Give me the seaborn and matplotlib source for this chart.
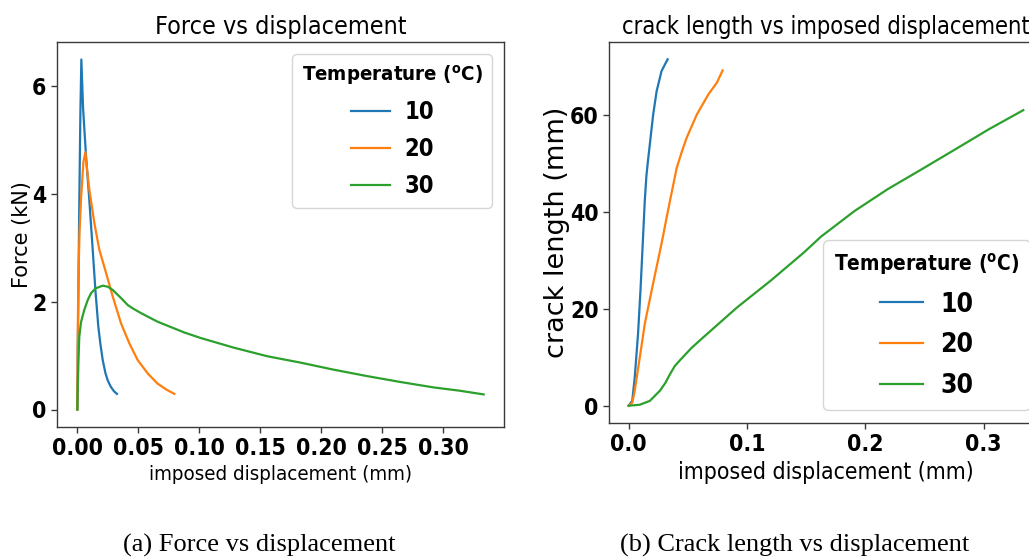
import pandas as pd
import matplotlib
matplotlib.use('Agg')
import matplotlib.pyplot as plt
import seaborn as sns
from matplotlib import font_manager

# ---------------------------------------------------------
# Data
# ---------------------------------------------------------
TEMPS = [10, 20, 30]

# Force vs imposed displacement
disp_f_10 = [0.0, 0.0004, 0.0008, 0.0015, 0.0025, 0.0033, 0.0047, 0.0071, 0.0098, 0.0126,
             0.0148, 0.0172, 0.0190, 0.0208, 0.0230, 0.0249, 0.0275, 0.0300, 0.0325]
force_10 = [0.0, 1.2, 2.0, 3.6, 5.5, 6.5, 5.6, 4.72, 3.9, 2.97,
            2.22, 1.54, 1.2, 0.92, 0.68, 0.54, 0.42, 0.34, 0.29]

disp_f_20 = [0.0, 0.0003, 0.0008, 0.0018, 0.0030, 0.0050, 0.0066, 0.0080, 0.0098, 0.0139,
             0.0180, 0.0235, 0.0290, 0.0358, 0.0426, 0.0494, 0.0577, 0.0658, 0.0730, 0.0795]
force_20 = [0.0, 1.2, 2.35, 3.3, 3.9, 4.6, 4.78, 4.45, 4.09, 3.47,
            2.97, 2.54, 2.10, 1.60, 1.23, 0.92, 0.67, 0.48, 0.37, 0.29]

disp_f_30 = [0.0, 0.0004, 0.0010, 0.0016, 0.0030, 0.0057, 0.0085, 0.0112, 0.0150, 0.0208,
             0.0250, 0.0290, 0.0358, 0.0413, 0.0460, 0.0522, 0.0658, 0.0877, 0.1008, 0.1280,
             0.1555, 0.1830, 0.2100, 0.2375, 0.2650, 0.2920, 0.3130, 0.3330]
force_30 = [0.0, 0.45, 0.95, 1.35, 1.62, 1.85, 2.03, 2.16, 2.25, 2.30,
            2.28, 2.22, 2.07, 1.94, 1.87, 1.79, 1.63, 1.43, 1.33, 1.15,
            0.99, 0.87, 0.74, 0.62, 0.51, 0.41, 0.35, 0.28]

# Crack length vs imposed displacement
disp_c_10 = [0.0, 0.0030, 0.0051, 0.0079, 0.0100, 0.0116, 0.0136, 0.0150, 0.0165, 0.0179,
             0.0195, 0.0207, 0.0236, 0.0278, 0.0329]
crack_10 = [0.0, 1.0, 5.8, 14.8, 24.0, 32.0, 42.3, 47.5, 51.0, 54.0,
            57.5, 60.1, 64.9, 69.1, 71.5]

disp_c_20 = [0.0, 0.0030, 0.0051, 0.0094, 0.0136, 0.0207, 0.0278, 0.0335, 0.0406, 0.0450,
             0.0490, 0.0576, 0.0675, 0.0746, 0.0794]
crack_20 = [0.0, 0.6, 3.1, 10.0, 16.9, 25.3, 33.5, 40.6, 49.1, 52.5,
            55.3, 60.1, 64.3, 66.7, 69.2]

disp_c_30 = [0.0, 0.0094, 0.0179, 0.0264, 0.0310, 0.0349, 0.0390, 0.0434, 0.0530, 0.0630,
             0.0917, 0.1200, 0.1480, 0.1626, 0.1910, 0.2190, 0.2477, 0.2760, 0.3044, 0.3336]
crack_30 = [0.0, 0.2, 1.0, 3.1, 4.7, 6.5, 8.2, 9.4, 11.9, 14.1,
            20.3, 25.8, 31.6, 34.9, 40.2, 44.7, 48.8, 52.9, 57.05, 61.0]


def long_frame(xs, ys, ycol):
    parts = []
    for t, x, y in zip(TEMPS, xs, ys):
        parts.append(pd.DataFrame({'disp': x, ycol: y, 'Temperature': str(t)}))
    return pd.concat(parts, ignore_index=True)


force_df = long_frame([disp_f_10, disp_f_20, disp_f_30], [force_10, force_20, force_30], 'force')
crack_df = long_frame([disp_c_10, disp_c_20, disp_c_30], [crack_10, crack_20, crack_30], 'crack')

# ---------------------------------------------------------
# Fonts: condensed sans for most text, if available
# ---------------------------------------------------------
fonts = font_manager.fontManager.ttflist
names = {f.name for f in fonts}
if any(f.name == 'DejaVu Sans' and f.stretch == 'condensed' for f in fonts):
    COND = dict(family='DejaVu Sans', stretch='condensed')
elif 'Liberation Sans Narrow' in names:
    COND = dict(family='Liberation Sans Narrow', stretch='normal')
else:
    COND = dict(family='DejaVu Sans', stretch='condensed')

plt.rcParams['font.family'] = [COND['family'], 'DejaVu Sans']
plt.rcParams['font.stretch'] = COND['stretch']
plt.rcParams['mathtext.default'] = 'regular'

palette = ['#1f77b4', '#ff7f0e', '#2ca02c']
TICK_FS = 16.5

fig = plt.figure(figsize=(10.29, 5.6), dpi=100)
ax1 = fig.add_axes([0.0554, 0.2375, 0.4344, 0.6875])
ax2 = fig.add_axes([0.5918, 0.2446, 0.4218, 0.6804])

sns.lineplot(data=force_df, x='disp', y='force', hue='Temperature', palette=palette,
             sort=False, estimator=None, lw=1.6, ax=ax1)
sns.lineplot(data=crack_df, x='disp', y='crack', hue='Temperature', palette=palette,
             sort=False, estimator=None, lw=1.6, ax=ax2)

for ax in (ax1, ax2):
    for sp in ax.spines.values():
        sp.set_color('#3a3a3a')
        sp.set_linewidth(1.0)
    ax.tick_params(length=4, width=1.0, color='#3a3a3a')

ax1.set_xticks([0.0, 0.05, 0.10, 0.15, 0.20, 0.25, 0.30])
ax1.set_xticklabels(['0.00', '0.05', '0.10', '0.15', '0.20', '0.25', '0.30'],
                    fontweight='bold', fontsize=TICK_FS)
ax1.set_yticks([0, 2, 4, 6])
ax1.set_yticklabels(['0', '2', '4', '6'], fontweight='bold', fontsize=TICK_FS)
ax2.set_xticks([0.0, 0.1, 0.2, 0.3])
ax2.set_xticklabels(['0.0', '0.1', '0.2', '0.3'], fontweight='bold', fontsize=TICK_FS)
ax2.set_yticks([0, 20, 40, 60])
ax2.set_yticklabels(['0', '20', '40', '60'], fontweight='bold', fontsize=TICK_FS)

ax1.set_title('Force vs displacement', fontsize=18)
ax1.set_xlabel('imposed displacement (mm)', fontsize=14.7, labelpad=3)
ax1.set_ylabel('Force (kN)', fontsize=15, family='DejaVu Sans', stretch='normal', labelpad=0)

ax2.set_title('crack length vs imposed displacement', fontsize=17)
ax2.set_xlabel('imposed displacement (mm)', fontsize=16.5, labelpad=3)
ax2.set_ylabel('crack length (mm)', fontsize=19.5, family='DejaVu Sans', stretch='normal',
               labelpad=0)

leg1 = ax1.legend(title='Temperature ($^o$C)', loc='upper right',
                  prop={'weight': 'bold', 'size': 17}, handlelength=1.65,
                  handletextpad=0.6, labelspacing=0.55)
leg1.get_title().set_fontweight('bold')
leg1.get_title().set_fontsize(14.7)

leg2 = ax2.legend(title='Temperature ($^o$C)', loc='lower right',
                  prop={'weight': 'bold', 'size': 19}, handlelength=1.63,
                  handletextpad=0.65, labelspacing=0.56)
leg2.get_title().set_fontweight('bold')
leg2.get_title().set_fontsize(15)

# Sub-figure captions
fig.text(0.2517, 0.0143, '(a) Force vs displacement', ha='center', va='baseline',
         family='Liberation Serif', stretch='normal', fontsize=19)
fig.text(0.7726, 0.0143, '(b) Crack length vs displacement', ha='center', va='baseline',
         family='Liberation Serif', stretch='normal', fontsize=19)

fig.savefig('out.png', dpi=100)
plt.close(fig)
